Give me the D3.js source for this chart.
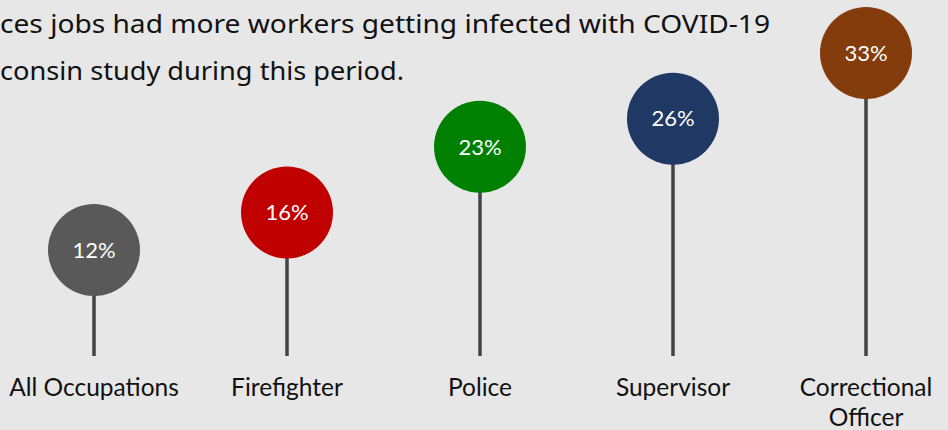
<!DOCTYPE html>
<html>
<head>
<meta charset="utf-8">
<script src="https://cdn.jsdelivr.net/npm/d3@7"></script>
<style>
  body { margin: 0; background: #e7e7e7; }
  svg { display: block; }
</style>
</head>
<body>
<div id="chart"></div>
<script>
const categories = ["All Occupations", "Firefighter", "Police", "Supervisor", "Correctional Officer"];
const values = [12, 16, 23, 26, 33];
const colors = ["#595959", "#c00000", "#008000", "#203864", "#843c0c"];
const titleLines = [
    "ces jobs had more workers getting infected with COVID-19",
    "consin study during this period."
];
const titleWidths = [770, 404];

const width = 948, height = 430;

const svg = d3.select("#chart")
    .append("svg")
    .attr("width", width)
    .attr("height", height);

svg.append("rect")
    .attr("width", width)
    .attr("height", height)
    .attr("fill", "#e7e7e7");

// title (cropped on the left in the original)
svg.selectAll(".title")
    .data(titleLines)
    .enter()
    .append("text")
    .attr("class", "title")
    .attr("x", 0)
    .attr("y", (d, i) => 33 + i * 47)
    .attr("textLength", (d, i) => titleWidths[i])
    .attr("lengthAdjust", "spacingAndGlyphs")
    .style("font-family", "'Noto Sans', sans-serif")
    .style("font-size", "26px")
    .attr("fill", "#111")
    .text(d => d);

const x = d3.scalePoint()
    .domain(categories)
    .range([94, 866]);

const y = d3.scaleLinear()
    .domain([12, 33])
    .range([250, 53]);

const baseY = 356;
const r = 46;

const data = categories.map((c, i) => ({ cat: c, value: values[i], color: colors[i] }));

// stems
svg.selectAll(".stem")
    .data(data)
    .enter()
    .append("line")
    .attr("class", "stem")
    .attr("x1", d => x(d.cat))
    .attr("x2", d => x(d.cat))
    .attr("y1", baseY)
    .attr("y2", d => y(d.value))
    .attr("stroke", "#444")
    .attr("stroke-width", 3.5);

// bubbles
svg.selectAll(".bubble")
    .data(data)
    .enter()
    .append("circle")
    .attr("class", "bubble")
    .attr("cx", d => x(d.cat))
    .attr("cy", d => y(d.value))
    .attr("r", r)
    .attr("fill", d => d.color);

svg.selectAll(".pct")
    .data(data)
    .enter()
    .append("text")
    .attr("class", "pct")
    .attr("x", d => x(d.cat))
    .attr("y", d => y(d.value))
    .attr("dy", "0.35em")
    .attr("text-anchor", "middle")
    .style("font-family", "Lato, sans-serif")
    .style("font-size", "22px")
    .attr("fill", "#fff")
    .text(d => d.value + "%");

// category labels
const labels = svg.selectAll(".cat")
    .data(data)
    .enter()
    .append("text")
    .attr("class", "cat")
    .attr("text-anchor", "middle")
    .style("font-family", "Lato, sans-serif")
    .style("font-size", "24.5px")
    .attr("fill", "#111");

labels.each(function (d) {
    const words = d.cat === "Correctional Officer" ? ["Correctional", "Officer"] : [d.cat];
    d3.select(this).selectAll("tspan")
        .data(words)
        .enter()
        .append("tspan")
        .attr("x", x(d.cat))
        .attr("y", (w, i) => 396 + i * 30)
        .text(w => w);
});
</script>
</body>
</html>
